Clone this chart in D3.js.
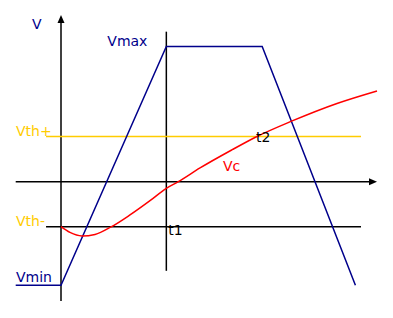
<!DOCTYPE html>
<html>
<head>
<meta charset="utf-8">
<script src="https://cdn.jsdelivr.net/npm/d3@7"></script>
<style>
  body { margin: 0; background: #fff; }
  text { font-family: "DejaVu Sans", sans-serif; font-size: 14px; }
</style>
</head>
<body>
<div id="chart"></div>
<script>
// time (t1 = 1) and voltage (Vth = 1) values
var vSquareT = [-0.43, 0, 1.0, 1.91, 2.795];
var vSquareV = [-2.3, -2.3, 3.0, 3.0, -2.3];

var vcT = [0, 0.085, 0.199, 0.323, 0.475, 0.655, 0.845, 1.0, 1.114, 1.32, 1.621, 1.851, 2.183, 2.62, 3.0];
var vcV = [-1.0, -1.128, -1.206, -1.172, -1.006, -0.739, -0.422, -0.147, 0, 0.304, 0.704, 0.992, 1.337, 1.736, 2.014];

var vthPlus = 1.0;
var vthMinus = -1.0;
var vthExtent = [-0.142, 2.848];
var t1 = 1.0;
var t1Extent = [-1.98, 3.33];

var tAxisExtent = [-0.43, 3.0];
var vAxisExtent = [-2.65, 3.7];

var width = 393,
  height = 318;

var x = d3.scaleLinear().domain([0, 3]).range([61, 377]);
var y = d3.scaleLinear().domain(vAxisExtent).range([301, 15]);

var svg = d3.select("#chart").append("svg")
  .attr("width", width)
  .attr("height", height);

var blue = "#00008b",
  red = "#ff0000",
  gold = "#ffcc00";

var line = d3.line()
  .x(function(d) { return x(d[0]); })
  .y(function(d) { return y(d[1]); });

// axes
svg.append("line")
  .attr("x1", x(tAxisExtent[0])).attr("x2", x(tAxisExtent[1]) - 6)
  .attr("y1", y(0)).attr("y2", y(0))
  .attr("stroke", "#000").attr("stroke-width", 1.5);

svg.append("line")
  .attr("x1", x(0)).attr("x2", x(0))
  .attr("y1", y(vAxisExtent[0])).attr("y2", y(vAxisExtent[1]) + 6)
  .attr("stroke", "#000").attr("stroke-width", 1.5);

// arrow heads
var ax = x(tAxisExtent[1]), ay = y(0);
svg.append("path")
  .attr("d", "M" + ax + "," + ay + "L" + (ax - 8) + "," + (ay - 3.5) + "L" + (ax - 8) + "," + (ay + 3.5) + "Z")
  .attr("fill", "#000");

var bx = x(0), by = y(vAxisExtent[1]);
svg.append("path")
  .attr("d", "M" + bx + "," + by + "L" + (bx - 3.5) + "," + (by + 8) + "L" + (bx + 3.5) + "," + (by + 8) + "Z")
  .attr("fill", "#000");

// threshold lines
svg.append("line")
  .attr("x1", x(vthExtent[0])).attr("x2", x(vthExtent[1]))
  .attr("y1", y(vthMinus)).attr("y2", y(vthMinus))
  .attr("stroke", "#000").attr("stroke-width", 1.5);

svg.append("line")
  .attr("x1", x(t1)).attr("x2", x(t1))
  .attr("y1", y(t1Extent[0])).attr("y2", y(t1Extent[1]))
  .attr("stroke", "#000").attr("stroke-width", 1.5);

svg.append("line")
  .attr("x1", x(vthExtent[0])).attr("x2", x(vthExtent[1]))
  .attr("y1", y(vthPlus)).attr("y2", y(vthPlus))
  .attr("stroke", gold).attr("stroke-width", 1.5);

// square-ish input
svg.append("path")
  .datum(d3.zip(vSquareT, vSquareV))
  .attr("d", line)
  .attr("fill", "none")
  .attr("stroke", blue)
  .attr("stroke-width", 1.5);

// capacitor voltage
svg.append("path")
  .datum(d3.zip(vcT, vcV))
  .attr("d", line.curve(d3.curveMonotoneX))
  .attr("fill", "none")
  .attr("stroke", red)
  .attr("stroke-width", 1.5);

// labels
function label(txt, px, py, color) {
  svg.append("text")
    .attr("x", px)
    .attr("y", py)
    .attr("fill", color)
    .text(txt);
}

label("V", x(0) - 29, y(vAxisExtent[1]) + 14, blue);
label("Vmax", x(t1) - 59, y(3.0) - 1, blue);
label("Vth+", 16, y(vthPlus) - 1, gold);
label("Vth-", 16, y(vthMinus) - 1, gold);
label("Vmin", 16, y(-2.3) - 3, blue);
label("t1", x(t1) + 2, y(vthMinus) + 8, "#000");
label("t2", 256, y(vthPlus) + 5, "#000");
label("Vc", 223, 171, red);
</script>
</body>
</html>
